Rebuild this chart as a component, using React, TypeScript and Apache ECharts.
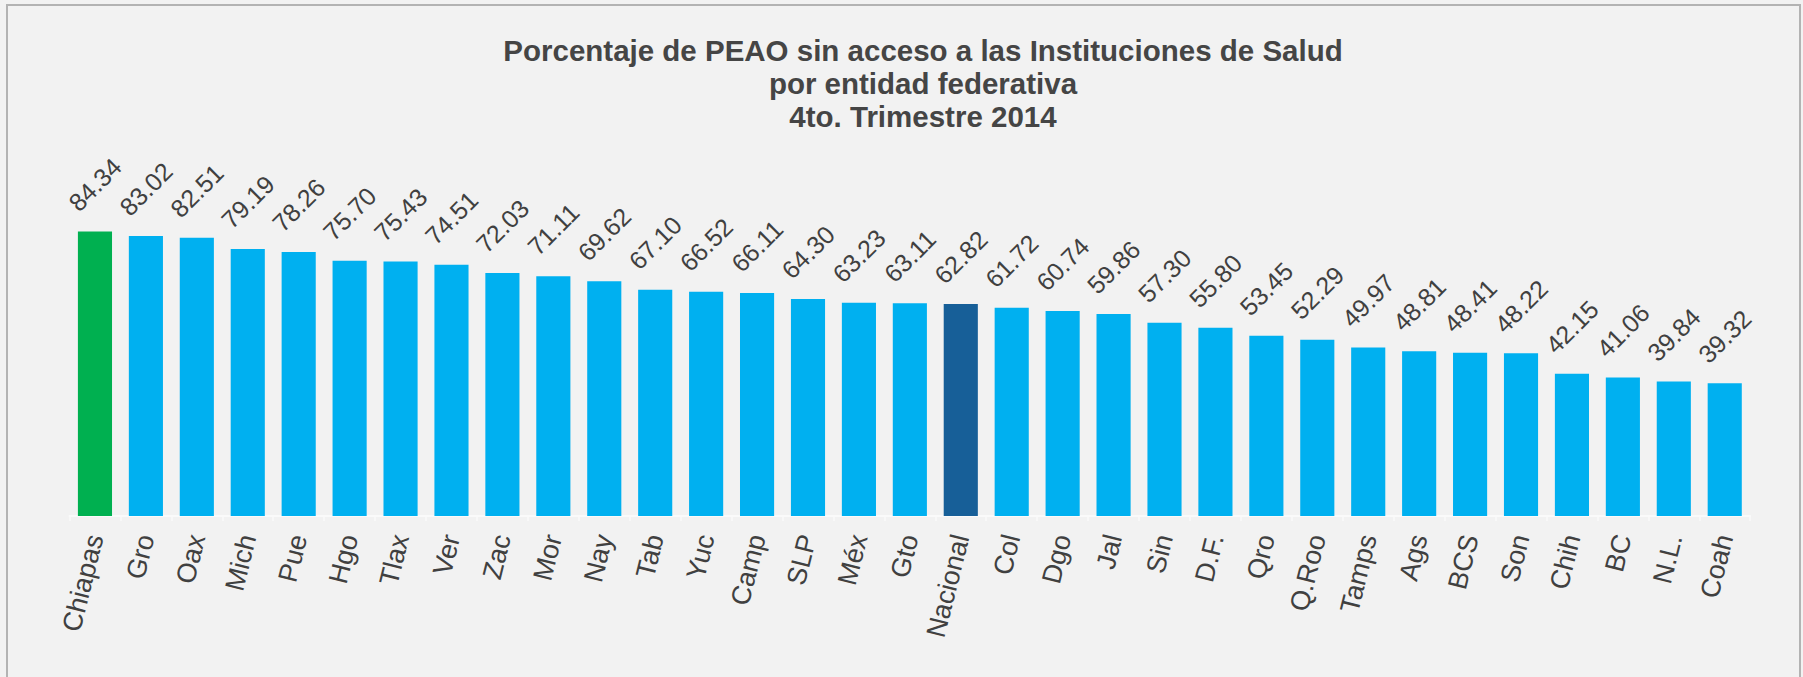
import React, { useEffect, useRef } from 'react';
import * as echarts from 'echarts';

const titleLines = [
  'Porcentaje de PEAO sin acceso a las Instituciones de Salud',
  'por entidad federativa',
  '4to. Trimestre 2014',
];

const categories = [
  'Chiapas', 'Gro', 'Oax', 'Mich', 'Pue', 'Hgo', 'Tlax', 'Ver', 'Zac', 'Mor', 'Nay',
  'Tab', 'Yuc', 'Camp', 'SLP', 'Méx', 'Gto', 'Nacional', 'Col', 'Dgo', 'Jal', 'Sin',
  'D.F.', 'Qro', 'Q.Roo', 'Tamps', 'Ags', 'BCS', 'Son', 'Chih', 'BC', 'N.L.', 'Coah',
];

const values = [
  84.34, 83.02, 82.51, 79.19, 78.26, 75.70, 75.43, 74.51, 72.03, 71.11, 69.62,
  67.10, 66.52, 66.11, 64.30, 63.23, 63.11, 62.82, 61.72, 60.74, 59.86, 57.30,
  55.80, 53.45, 52.29, 49.97, 48.81, 48.41, 48.22, 42.15, 41.06, 39.84, 39.32,
];

const topState = 'Chiapas';
const nationalCategory = 'Nacional';

const COLOR_DEFAULT = '#00b0f0';
const COLOR_TOP = '#00b050';
const COLOR_NATIONAL = '#175f98';
const TEXT = '#404040';
const FONT = '"Liberation Sans", Arial, sans-serif';

export default function App() {
  const ref = useRef<HTMLDivElement>(null);

  useEffect(() => {
    document.body.style.margin = '0';
    document.body.style.background = '#f2f2f2';
    if (!ref.current) return;
    const chart = echarts.init(ref.current, null, { renderer: 'svg' });

    const data = values.map((v, i) => {
      const c = categories[i];
      const color = c === topState ? COLOR_TOP : c === nationalCategory ? COLOR_NATIONAL : COLOR_DEFAULT;
      return { value: v, itemStyle: { color } };
    });

    chart.setOption({
      animation: false,
      backgroundColor: '#f2f2f2',
      textStyle: { fontFamily: FONT },
      title: {
        text: titleLines.join('\n'),
        left: 923,
        top: 34,
        padding: 0,
        textAlign: 'center',
        textStyle: {
          fontFamily: FONT,
          fontSize: 29.5,
          fontWeight: 'bold',
          color: '#454545',
          lineHeight: 33,
        },
      },
      graphic: [
        {
          type: 'rect',
          shape: { x: 7, y: 5, width: 1793, height: 720 },
          style: { fill: 'none', stroke: '#b3b3b3', lineWidth: 2 },
          silent: true,
        },
      ],
      grid: {
        left: 69.5,
        right: 52.8,
        top: 178.7,
        bottom: 161,
        containLabel: false,
        outerBoundsMode: 'none',
      },
      xAxis: {
        type: 'category',
        data: categories,
        axisLine: { show: true, lineStyle: { color: '#fafafa', width: 2 } },
        axisTick: { show: true, length: 5, lineStyle: { color: '#fafafa', width: 1.5 } },
        axisLabel: {
          interval: 0,
          rotate: 76,
          margin: 19,
          fontSize: 27,
          color: TEXT,
          fontFamily: FONT,
        },
      },
      yAxis: {
        type: 'value',
        min: 0,
        max: 100,
        show: false,
        splitLine: { show: false },
      },
      series: [
        {
          type: 'bar',
          data,
          barCategoryGap: '33%',
          label: {
            show: true,
            position: 'top',
            distance: 47,
            rotate: 45,
            align: 'center',
            verticalAlign: 'middle',
            fontSize: 25,
            color: TEXT,
            fontFamily: FONT,
            formatter: (p: any) => Number(p.value).toFixed(2),
          },
        },
      ],
    });

    return () => chart.dispose();
  }, []);

  return <div ref={ref} style={{ width: 1803, height: 677 }} />;
}
